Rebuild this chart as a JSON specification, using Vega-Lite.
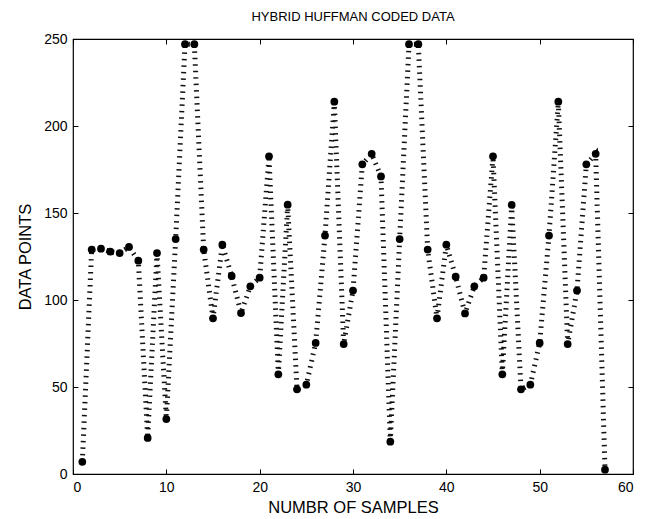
{
  "$schema": "https://vega.github.io/schema/vega-lite/v6.json",
  "autosize": "none",
  "width": 560,
  "height": 435,
  "padding": {"left": 73, "top": 39, "right": 13, "bottom": 45},
  "background": "white",
  "config": {
    "font": "Liberation Sans",
    "view": {"stroke": "black", "strokeWidth": 1.2},
    "axis": {"grid": false, "domain": false, "tickColor": "black", "tickSize": -5, "labelColor": "black", "labelFontSize": 14, "labelFont": "Liberation Sans", "titleFont": "Liberation Sans", "titleFontWeight": "normal", "titleFontSize": 16.5, "titleColor": "black"}
  },
  "title": {"text": "HYBRID HUFFMAN CODED DATA", "fontSize": 13, "fontWeight": "normal", "font": "Liberation Sans", "color": "black", "offset": 8},
  "data": {"values": [
    {"n":1,"v":7},{"n":2,"v":129},{"n":3,"v":129.5},{"n":4,"v":127.8},{"n":5,"v":127},{"n":6,"v":130.5},{"n":7,"v":122.6},{"n":8,"v":20.7},{"n":9,"v":127},{"n":10,"v":31.6},
    {"n":11,"v":135},{"n":12,"v":247},{"n":13,"v":247},{"n":14,"v":129},{"n":15,"v":89.5},{"n":16,"v":131.8},{"n":17,"v":113.8},{"n":18,"v":92.5},{"n":19,"v":107.9},{"n":20,"v":112.8},
    {"n":21,"v":182.6},{"n":22,"v":57.3},{"n":23,"v":154.8},{"n":24,"v":48.7},{"n":25,"v":51.3},{"n":26,"v":75.3},{"n":27,"v":137},{"n":28,"v":214},{"n":29,"v":74.7},{"n":30,"v":105.4},
    {"n":31,"v":178},{"n":32,"v":184},{"n":33,"v":171},{"n":34,"v":18.6},{"n":35,"v":135},{"n":36,"v":247},{"n":37,"v":247},{"n":38,"v":129},{"n":39,"v":89.5},{"n":40,"v":131.8},
    {"n":41,"v":113.4},{"n":42,"v":92.3},{"n":43,"v":107.9},{"n":44,"v":112.8},{"n":45,"v":182.6},{"n":46,"v":57.3},{"n":47,"v":154.6},{"n":48,"v":48.7},{"n":49,"v":51.3},{"n":50,"v":75.3},
    {"n":51,"v":137},{"n":52,"v":214},{"n":53,"v":74.7},{"n":54,"v":105.4},{"n":55,"v":178},{"n":56,"v":184},{"n":57,"v":2.5}
  ]},
  "layer": [
    {
      "mark": {"type": "line", "color": "#111111", "strokeWidth": 5, "strokeDash": [1.5, 5], "clip": true},
      "encoding": {
        "x": {"field": "n", "type": "quantitative", "scale": {"domain": [0, 60], "nice": false, "zero": false},
              "axis": {"orient": "bottom", "values": [0,10,20,30,40,50,60], "title": "NUMBR OF SAMPLES", "labelPadding": 11, "titlePadding": 5}},
        "y": {"field": "v", "type": "quantitative", "scale": {"domain": [0, 250], "nice": false},
              "axis": {"orient": "left", "values": [0,50,100,150,200,250], "title": "DATA POINTS", "labelPadding": 11, "titlePadding": 10}}
      }
    },
    {
      "mark": {"type": "point", "filled": true, "color": "black", "size": 60, "opacity": 1},
      "encoding": {
        "x": {"field": "n", "type": "quantitative", "axis": {"orient": "top", "values": [0,10,20,30,40,50,60], "labels": false, "title": null}},
        "y": {"field": "v", "type": "quantitative", "axis": {"orient": "right", "values": [0,50,100,150,200,250], "labels": false, "title": null}}
      }
    }
  ],
  "resolve": {"axis": {"x": "independent", "y": "independent"}}
}
